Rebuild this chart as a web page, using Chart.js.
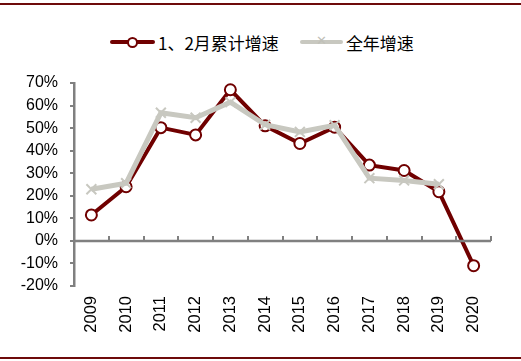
<!DOCTYPE html>
<html>
<head>
<meta charset="utf-8">
<script src="https://cdn.jsdelivr.net/npm/chart.js@4"></script>
<style>
  html, body { margin: 0; padding: 0; background: #fff; }
  #wrap { position: relative; width: 521px; height: 361px; overflow: hidden; }
  .rule { position: absolute; left: 0; width: 521px; height: 2px; background: #6e0a0a; }
  #legend { position: absolute; top: 32px; left: 110px; height: 20px; display: flex; align-items: center;
    font: 17px "Noto Sans CJK SC", "Liberation Sans", Arial, sans-serif; color: #000; }
  .item { display: flex; align-items: center; }
  .sw { position: relative; width: 45px; height: 14px; margin-right: 3px; }
  .sw .ln { position: absolute; left: 0; right: 0; top: 5px; height: 4px; border-radius: 2px; }
  .sw .dot { position: absolute; left: 17px; top: 2px; width: 7px; height: 7px; border: 2px solid #700000;
    border-radius: 50%; background: #fff; }
  .sw .x { position: absolute; left: 16px; top: -2px; font: 13px "DejaVu Sans", sans-serif; color: #c0c0b8; }
  canvas { position: absolute; left: 0; top: 0; }
</style>
</head>
<body>
<div id="wrap">
  <div class="rule" style="top:3px"></div>
  <div class="rule" style="top:357px"></div>
  <div id="legend">
    <div class="item"><div class="sw"><div class="ln" style="background:#700000"></div><div class="dot"></div></div><span id="lab0"></span></div>
    <div class="item" style="margin-left:21px"><div class="sw" style="width:43px"><div class="ln" style="background:#c8c8c0"></div><div class="x">✕</div></div><span id="lab1"></span></div>
  </div>
  <canvas id="c" width="521" height="361"></canvas>
</div>
<script>
const years = ["2009", "2010", "2011", "2012", "2013", "2014", "2015", "2016", "2017", "2018", "2019", "2020"];
const janFebName = "1、2月累计增速";
const fullYearName = "全年增速";
const janFeb = [11.5, 24, 50.2, 47, 67, 51, 43.2, 50.4, 33.6, 31.2, 21.8, -11];
const fullYear = [22.9, 25.6, 56.8, 54.6, 61.5, 51.5, 48.3, 51.3, 27.8, 26.8, 25.1, null];

const $ = (id) => document.getElementById(id);
$("lab0").textContent = janFebName;
$("lab1").textContent = fullYearName;

const RED = "#700000";
const GRAY = "#c8c8c0";
const AXIS = "#808080";
const FONT = "'Liberation Sans', sans-serif";

// zero line with upward tick marks between categories
const zeroAxis = {
  id: "zeroAxis",
  afterDatasetsDraw(chart) {
    const { ctx, chartArea, scales: { x, y } } = chart;
    const y0 = y.getPixelForValue(0);
    ctx.save();
    ctx.strokeStyle = AXIS;
    ctx.lineWidth = 2.5;
    ctx.beginPath();
    ctx.moveTo(chartArea.left, y0);
    ctx.lineTo(chartArea.right, y0);
    ctx.stroke();
    ctx.lineWidth = 2;
    const n = x.ticks.length;
    const w = (chartArea.right - chartArea.left) / n;
    for (let i = 1; i <= n; i++) {
      const px = Math.round(chartArea.left + i * w);
      ctx.beginPath();
      ctx.moveTo(px, y0);
      ctx.lineTo(px, y0 - 5);
      ctx.stroke();
    }
    ctx.restore();
  }
};

new Chart($("c"), {
  type: "line",
  data: {
    labels: years,
    datasets: [
      {
        label: janFebName, data: janFeb, borderColor: RED, borderWidth: 4,
        pointStyle: "circle", pointRadius: 5.5, pointBorderWidth: 2,
        pointBackgroundColor: "#fff", pointBorderColor: RED, order: 2
      },
      {
        label: fullYearName, data: fullYear, borderColor: GRAY, borderWidth: 5,
        pointStyle: "crossRot", pointRadius: 7, pointBorderWidth: 2,
        pointBorderColor: GRAY, order: 1
      }
    ]
  },
  options: {
    responsive: false,
    animation: false,
    layout: { padding: { left: 0, right: 30, top: 83, bottom: 0 } },
    plugins: { legend: { display: false }, tooltip: { enabled: false } },
    scales: {
      x: {
        offset: true,
        grid: { display: false, drawTicks: false },
        border: { display: false },
        afterFit: (s) => { s.height = 75; },
        ticks: {
          minRotation: 90, maxRotation: 90, padding: 10, color: "#000",
          font: { family: FONT, size: 16.5 }
        }
      },
      y: {
        min: -20, max: 70,
        afterFit: (s) => { s.width = 74; },
        grid: { drawOnChartArea: false, drawTicks: true, tickLength: 4, color: AXIS, lineWidth: 2 },
        border: { color: AXIS, width: 2.5 },
        ticks: {
          stepSize: 10, padding: 12, color: "#000",
          font: { family: FONT, size: 16 },
          callback: (v) => v + "%"
        }
      }
    }
  },
  plugins: [zeroAxis]
});
</script>
</body>
</html>
